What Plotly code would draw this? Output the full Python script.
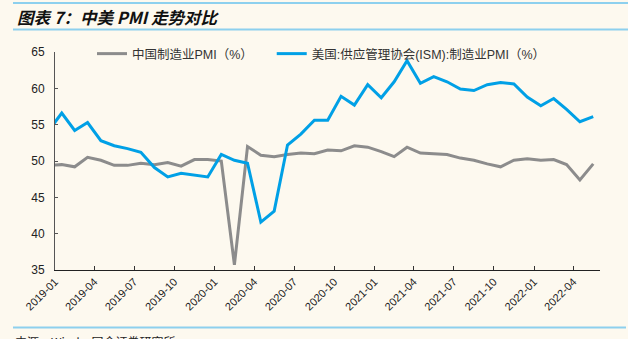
import plotly.graph_objects as go

# Monthly observations (first month only feeds the clipped leading segment)
months = [
    "2018-12",
    "2019-01", "2019-02", "2019-03", "2019-04", "2019-05", "2019-06",
    "2019-07", "2019-08", "2019-09", "2019-10", "2019-11", "2019-12",
    "2020-01", "2020-02", "2020-03", "2020-04", "2020-05", "2020-06",
    "2020-07", "2020-08", "2020-09", "2020-10", "2020-11", "2020-12",
    "2021-01", "2021-02", "2021-03", "2021-04", "2021-05", "2021-06",
    "2021-07", "2021-08", "2021-09", "2021-10", "2021-11", "2021-12",
    "2022-01", "2022-02", "2022-03", "2022-04", "2022-05",
]

china_pmi = [
    49.4,
    49.5, 49.2, 50.5, 50.1, 49.4, 49.4, 49.7, 49.5, 49.8, 49.3, 50.2, 50.2,
    50.0, 35.7, 52.0, 50.8, 50.6, 50.9, 51.1, 51.0, 51.5, 51.4, 52.1, 51.9,
    51.3, 50.6, 51.9, 51.1, 51.0, 50.9, 50.4, 50.1, 49.6, 49.2, 50.1, 50.3,
    50.1, 50.2, 49.5, 47.4, 49.6,
]

us_ism_pmi = [
    54.1,
    56.6, 54.2, 55.3, 52.8, 52.1, 51.7, 51.2, 49.1, 47.8, 48.3, 48.1, 47.8,
    50.9, 50.1, 49.7, 41.6, 43.1, 52.2, 53.7, 55.6, 55.6, 58.9, 57.7, 60.5,
    58.7, 60.9, 63.8, 60.7, 61.6, 60.9, 59.9, 59.7, 60.5, 60.8, 60.6, 58.8,
    57.6, 58.6, 57.1, 55.4, 56.1,
]

y_ticks = [35, 40, 45, 50, 55, 60, 65]

china_name = "中国制造业PMI（%）"
us_name = "美国:供应管理协会(ISM):制造业PMI（%）"
title_text = "图表 7：中美 PMI 走势对比"
source_text = "来源：Wind，国金证券研究所"

W, H = 628, 339
L, R, T, B = 55, 28, 52, 69
PW, PH = W - L - R, H - T - B

def px(x):
    return (x - L) / PW

def py(y):
    return (H - B - y) / PH

BG = "#FDF9EF"
RULE = "#8DD0EE"
FONT = "Liberation Sans, Arial, Noto Sans CJK SC, sans-serif"
CJK = "Noto Sans CJK SC, sans-serif"

# non-breaking spaces widen the first legend entry so the second one sits further right
PAD = "\u00a0" * 4

fig = go.Figure()
fig.add_trace(go.Scatter(
    x=months, y=china_pmi, name=china_name + PAD, mode="lines",
    xperiod="M1", xperiodalignment="middle",
    line=dict(color="#8C8C8C", width=3),
))
fig.add_trace(go.Scatter(
    x=months, y=us_ism_pmi, name=us_name, mode="lines",
    xperiod="M1", xperiodalignment="middle",
    line=dict(color="#00A0E6", width=3),
))

fig.update_layout(
    width=W, height=H,
    margin=dict(l=L, r=R, t=T, b=B),
    paper_bgcolor=BG, plot_bgcolor=BG,
    font=dict(family=FONT, size=12, color="#222"),
    showlegend=True,
    legend=dict(
        orientation="h", x=px(92), y=py(39), xanchor="left", yanchor="top",
        bgcolor="rgba(0,0,0,0)", font=dict(family=FONT, size=12.5, color="#333"),
        itemwidth=30, tracegroupgap=0,
    ),
    xaxis=dict(
        type="date", range=["2019-01-01", "2022-06-01"],
        tick0="2019-01-01", dtick="M3", tickformat="%Y-%m",
        tickangle=-45, ticks="inside", ticklen=4, tickcolor="#333",
        showline=True, linecolor="#222", linewidth=1,
        showgrid=False, zeroline=False,
        tickfont=dict(family=FONT, size=11, color="#222"),
    ),
    yaxis=dict(
        range=[35, 65], tickvals=y_ticks,
        ticks="inside", ticklen=3, tickcolor="#555",
        showline=True, linecolor="#555", linewidth=1,
        showgrid=False, zeroline=False, ticklabelstandoff=7,
        tickfont=dict(family=FONT, size=12, color="#222"),
    ),
    shapes=[
        dict(type="line", xref="paper", yref="paper",
             x0=px(13), x1=px(628), y0=py(3), y1=py(3),
             line=dict(color=RULE, width=2)),
        dict(type="line", xref="paper", yref="paper",
             x0=px(13), x1=px(628), y0=py(29.5), y1=py(29.5),
             line=dict(color=RULE, width=2)),
        dict(type="line", xref="paper", yref="paper",
             x0=px(13), x1=px(626), y0=py(327.5), y1=py(327.5),
             line=dict(color=RULE, width=2)),
    ],
    annotations=[
        dict(text="<b><i>" + title_text + "</i></b>", xref="paper", yref="paper",
             x=px(15), y=py(16.5), xanchor="left", yanchor="middle",
             showarrow=False, font=dict(family=CJK, size=16.5, color="#111")),
        dict(text=source_text, xref="paper", yref="paper",
             x=px(13), y=py(331), xanchor="left", yanchor="top",
             showarrow=False, font=dict(family=CJK, size=12, color="#222")),
    ],
)

fig.write_html("out.html")
